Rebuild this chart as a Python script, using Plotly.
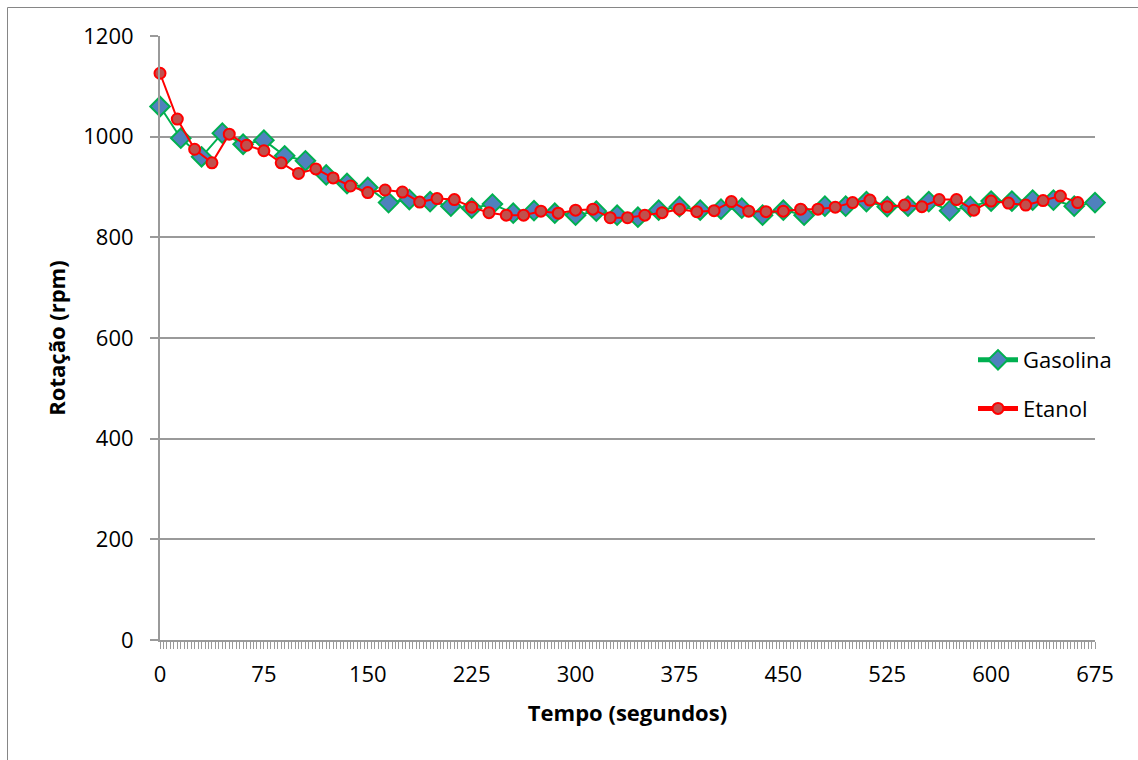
import plotly.graph_objects as go

# Gasolina: every 15 s
gas_t = [i * 15 for i in range(46)]
gas_rpm = [1060, 997, 960, 1007, 985, 993, 962, 952, 924, 907,
           899, 869, 875, 871, 862, 858, 866, 848, 853, 848,
           844, 852, 844, 840, 854, 861, 854, 856, 858, 844,
           854, 844, 862, 862, 871, 861, 862, 871, 853, 861,
           872, 872, 874, 874, 862, 869]

# Etanol: every 12.5 s
eta_t = [i * 12.5 for i in range(54)]
eta_rpm = [1126, 1035, 975, 948, 1005, 983, 972, 948, 927, 936,
           918, 902, 889, 894, 890, 870, 877, 875, 860, 849,
           844, 844, 852, 848, 854, 856, 839, 839, 844, 849,
           856, 851, 853, 871, 852, 851, 852, 856, 856, 860,
           869, 874, 861, 864, 861, 875, 875, 854, 872, 868,
           864, 873, 882, 869]

x_ticks = [0, 75, 150, 225, 300, 375, 450, 525, 600, 675]
y_ticks = [0, 200, 400, 600, 800, 1000, 1200]

FONT = "Open Sans"
FS = 22
GRID = "#9a9a9a"

gas_marker = dict(symbol="diamond", size=15, color="#4F81BD",
                  line=dict(color="#00B050", width=2))
eta_marker = dict(symbol="circle", size=11, color="#C0504D",
                  line=dict(color="#FF0000", width=2))

fig = go.Figure()
fig.add_trace(go.Scatter(
    x=gas_t, y=gas_rpm, name="Gasolina", mode="lines+markers",
    showlegend=False,
    line=dict(color="#00B050", width=2), marker=gas_marker,
    cliponaxis=False,
))
fig.add_trace(go.Scatter(
    x=eta_t, y=eta_rpm, name="Etanol", mode="lines+markers",
    showlegend=False,
    line=dict(color="#FF0000", width=2), marker=eta_marker,
    cliponaxis=False,
))
# legend entries (thicker legend lines, as in the reference)
fig.add_trace(go.Scatter(
    x=[None], y=[None], name="Gasolina", mode="lines+markers",
    legendgroup="g", line=dict(color="#00B050", width=5), marker=gas_marker,
))
fig.add_trace(go.Scatter(
    x=[None], y=[None], name="Etanol", mode="lines+markers",
    legendgroup="e", line=dict(color="#FF0000", width=5), marker=eta_marker,
))

L, R, T, B = 160, 43, 36, 120
W, H = 1138, 760
pw, ph = W - L - R, H - T - B

def px_x(p):
    return (p - L) / pw

def px_y(p):
    return (H - B - p) / ph

fig.update_layout(
    width=W, height=H,
    margin=dict(l=L, r=R, t=T, b=B, pad=0),
    paper_bgcolor="white", plot_bgcolor="white",
    font=dict(family=FONT, size=FS, color="black"),
    showlegend=True,
    legend=dict(
        x=px_x(973), y=px_y(339), xanchor="left", yanchor="top",
        bgcolor="rgba(0,0,0,0)", font=dict(size=FS, family=FONT),
        tracegroupgap=17, itemwidth=40,
    ),
    xaxis=dict(
        range=[0, 675], tickmode="array", tickvals=x_ticks,
        ticktext=[str(v) for v in x_ticks],
        showgrid=False, zeroline=False,
        showline=True, linecolor=GRID, linewidth=2,
        ticks="outside", ticklen=7, tickwidth=1, tickcolor=GRID,
        minor=dict(ticks="outside", ticklen=7, tickwidth=1, tickcolor=GRID,
                   dtick=2.5, tick0=0, showgrid=False),
        tickfont=dict(size=FS, family=FONT),
        title=dict(text="<b>Tempo (segundos)</b>", font=dict(size=FS, family=FONT),
                   standoff=18),
        ticklabelstandoff=7,
    ),
    yaxis=dict(
        range=[0, 1200], tickmode="array", tickvals=y_ticks,
        ticktext=[str(v) for v in y_ticks],
        showgrid=True, gridcolor=GRID, gridwidth=2,
        zeroline=False,
        showline=True, linecolor=GRID, linewidth=2,
        ticks="outside", ticklen=8, tickwidth=2, tickcolor=GRID,
        tickfont=dict(size=FS, family=FONT),
        ticklabelstandoff=12,
        title=dict(text="<b>Rotação (rpm)</b>", font=dict(size=FS, family=FONT),
                   standoff=12),
    ),
    shapes=[
        dict(type="line", xref="paper", yref="paper",
             x0=px_x(7.5), x1=px_x(7.5), y0=px_y(7.5), y1=px_y(H + 5),
             line=dict(color="#868686", width=1)),
        dict(type="line", xref="paper", yref="paper",
             x0=px_x(7.5), x1=px_x(W + 5), y0=px_y(7.5), y1=px_y(7.5),
             line=dict(color="#868686", width=1)),
    ],
)

fig.write_html("out.html")
